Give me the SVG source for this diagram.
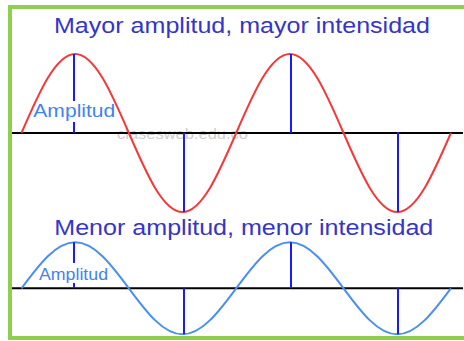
<svg xmlns="http://www.w3.org/2000/svg" width="464" height="341" viewBox="0 0 464 341">
  <style>
    .title { font-family: "Liberation Sans", Arial, sans-serif; fill: #3535c8; }
    .amp { font-family: "Liberation Sans", Arial, sans-serif; fill: #3f83f2; }
    .axis { stroke: #000; stroke-width: 2; fill: none; }
    .vline { stroke: #1a1aff; stroke-width: 2; fill: none; }
    .wave { fill: none; stroke-width: 2; }
  </style>
  <rect x="0" y="0" width="464" height="341" fill="#fff"/>
  <rect id="frame" x="10" y="7" width="470" height="331" fill="none" stroke="#8fcf4f" stroke-width="4"/>

  <g id="top-panel">
    <text class="title" x="54" y="33.3" font-size="21.5" textLength="376" lengthAdjust="spacingAndGlyphs">Mayor amplitud, mayor intensidad</text>
    <text x="117" y="138.5" font-family="Liberation Sans, Arial, sans-serif" font-size="15" fill="#c4c4c4" opacity="0.8" textLength="131" lengthAdjust="spacingAndGlyphs">clasesweb.edu.co</text>
    <line class="axis" x1="12" y1="133" x2="463" y2="133"/>
    <path class="wave" stroke="#f23a3a" d="M21.5,133 c17.5,-40.47 34.25,-79 53.675,-79 s36.175,38.53 53.675,79 s34.25,79 53.675,79 s36.175,-38.53 53.675,-79 s34.25,-79 53.675,-79 s36.175,38.53 53.675,79 s34.25,79 53.675,79 s36.175,-38.53 53.675,-79"/>
    <g class="vline">
      <line x1="74" y1="54" x2="74" y2="101"/>
      <line x1="74" y1="122" x2="74" y2="133"/>
      <line x1="184" y1="133" x2="184" y2="212"/>
      <line x1="291" y1="54" x2="291" y2="133"/>
      <line x1="398" y1="132" x2="398" y2="212"/>
    </g>
    <text class="amp" x="33.3" y="116.7" font-size="18.5" textLength="82" lengthAdjust="spacingAndGlyphs">Amplitud</text>
  </g>

  <g id="bottom-panel">
    <text class="title" x="54.3" y="235" font-size="21.5" textLength="379" lengthAdjust="spacingAndGlyphs">Menor amplitud, menor intensidad</text>
    <line class="axis" x1="12" y1="288.3" x2="463" y2="288.3"/>
    <path class="wave" stroke="#4a8ff0" d="M21.5,288.3 c17.5,-23.57 34.25,-46 53.675,-46 s36.175,22.43 53.675,46 s34.25,46 53.675,46 s36.175,-22.43 53.675,-46 s34.25,-46 53.675,-46 s36.175,22.43 53.675,46 s34.25,46 53.675,46 s36.175,-22.43 53.675,-46"/>
    <g class="vline">
      <line x1="74" y1="242.3" x2="74" y2="263"/>
      <line x1="74" y1="283" x2="74" y2="288.3"/>
      <line x1="184" y1="288.3" x2="184" y2="334.3"/>
      <line x1="291" y1="242.3" x2="291" y2="288.3"/>
      <line x1="398" y1="288.3" x2="398" y2="334.3"/>
    </g>
    <text class="amp" x="39" y="279.5" font-size="16" textLength="69" lengthAdjust="spacingAndGlyphs" fill="#4a8ff0">Amplitud</text>
  </g>
</svg>
